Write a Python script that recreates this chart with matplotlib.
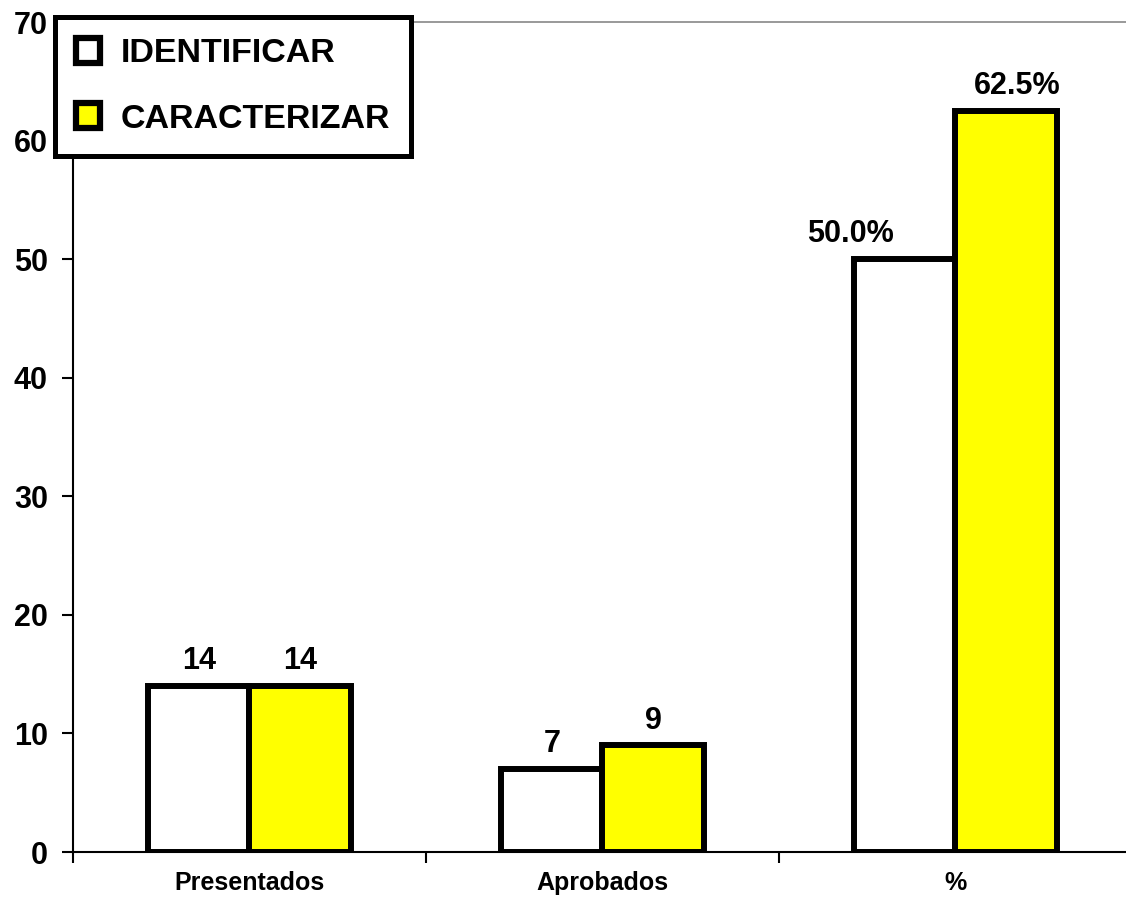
import matplotlib.pyplot as plt
import numpy as np
from matplotlib.patches import Patch

plt.rcParams['font.family'] = ['Liberation Sans', 'DejaVu Sans']
plt.rcParams['font.weight'] = 'bold'

categories = ["Presentados", "Aprobados", "%"]
series_names = ["IDENTIFICAR", "CARACTERIZAR"]
identificar = [14, 7, 50.0]
caracterizar = [14, 9, 62.5]
label_fmt = ["{:.0f}", "{:.0f}", "{:.1f}%"]

colors = ["white", "#ffff00"]
# horizontal nudge (points) for each value label, per series
label_dx = [[0, 0, -39], [0, 0, 8]]

fig = plt.figure(figsize=(11.26, 8.98), dpi=100)
ax = fig.add_axes([0.0648, 0.0512, 0.9405, 0.9243])

x = np.arange(len(categories))
width = 0.287
for i, (vals, col) in enumerate(zip([identificar, caracterizar], colors)):
    xs = x + (i - 0.5) * width
    ax.bar(xs, vals, width, color=col, edgecolor="black", linewidth=4.3, zorder=3)
    for j, (xx, v) in enumerate(zip(xs, vals)):
        ax.annotate(label_fmt[j].format(v), (xx, v), xytext=(label_dx[i][j], 7),
                    textcoords="offset points", ha="center", va="bottom",
                    fontsize=22, fontweight="bold")

ax.set_xlim(-0.5, 2.5)
ax.set_ylim(0, 70)
ax.set_yticks(range(0, 71, 10))
ax.tick_params(axis="y", labelsize=22, length=8, width=1.5, pad=10)

# category labels at centres, tick marks at group boundaries
ax.set_xticks(x)
ax.set_xticklabels(categories, fontsize=18)
ax.tick_params(axis="x", which="major", length=0, pad=14)
ax.set_xticks(np.arange(-0.5, 3.0, 1.0), minor=True)
ax.tick_params(axis="x", which="minor", length=8, width=1.5)

ax.spines["right"].set_visible(False)
ax.spines["top"].set_color("#888888")
ax.spines["top"].set_linewidth(1.2)
ax.spines["left"].set_linewidth(1.5)
ax.spines["bottom"].set_linewidth(1.5)

handles = [Patch(facecolor=c, edgecolor="black", linewidth=4.5) for c in colors]
leg = fig.legend(handles, series_names, loc="upper left",
                 bbox_to_anchor=(55 / 1126, 1 - 17 / 898),
                 prop={"size": 24.5, "weight": "bold"},
                 handlelength=0.7, handleheight=0.75, handletextpad=0.6,
                 labelspacing=1.0, borderpad=0.62, borderaxespad=0,
                 fancybox=False, framealpha=1)
leg.get_frame().set_edgecolor("black")
leg.get_frame().set_linewidth(3.6)

fig.savefig("out.png", dpi=100)
